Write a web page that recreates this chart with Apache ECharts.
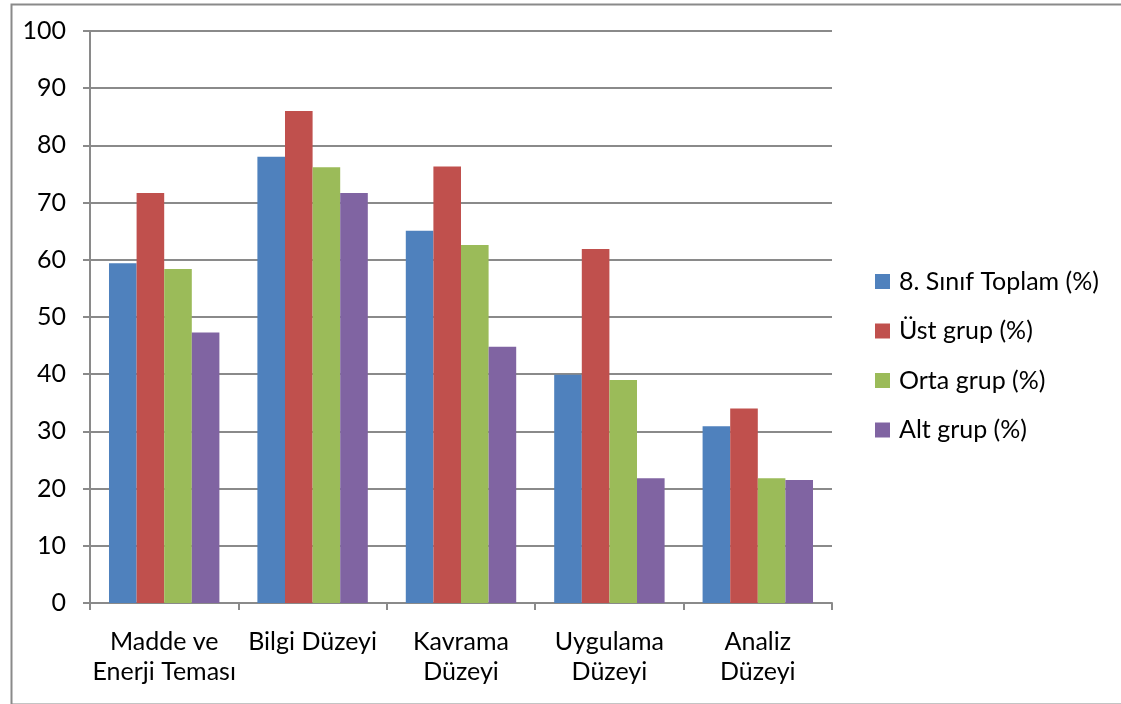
<!DOCTYPE html>
<html>
<head>
<meta charset="utf-8">
<script src="https://cdn.jsdelivr.net/npm/echarts@6/dist/echarts.min.js"></script>
<style>
html,body{margin:0;padding:0;background:#fff;}
#c{width:1121px;height:704px;}
</style>
</head>
<body>
<div id="c"></div>
<script>
const categories = ['Madde ve\nEnerji Teması', 'Bilgi Düzeyi', 'Kavrama\nDüzeyi', 'Uygulama\nDüzeyi', 'Analiz\nDüzeyi'];
const seriesNames = ['8. Sınıf Toplam (%)', 'Üst grup (%)', 'Orta grup (%)', 'Alt grup (%)'];
const toplam = [59.4, 78.0, 65.1, 39.9, 30.9];
const ust = [71.7, 86.0, 76.3, 61.9, 34.0];
const orta = [58.4, 76.2, 62.6, 39.0, 21.8];
const alt = [47.3, 71.7, 44.8, 21.8, 21.5];
const yTicks = {min: 0, max: 100, interval: 10};
const colors = ['#4F81BD', '#C0504D', '#9BBB59', '#8064A2'];

const FONT = 'Lato';
const chart = echarts.init(document.getElementById('c'), null, {renderer: 'canvas'});
const values = [toplam, ust, orta, alt];
chart.setOption({
  animation: false,
  backgroundColor: '#fff',
  textStyle: {fontFamily: FONT},
  graphic: [{
    type: 'rect', left: 9, top: 2, silent: true,
    shape: {x: 0, y: 0, width: 1125, height: 700},
    style: {fill: 'none', stroke: '#8a8a8a', lineWidth: 2}
  }],
  grid: {left: 90, top: 31, width: 742, height: 572, containLabel: false},
  legend: {
    orient: 'vertical', left: 870, top: 264, padding: 5,
    itemWidth: 15, itemHeight: 15, itemGap: 24.5,
    icon: 'rect',
    textStyle: {fontFamily: FONT, fontSize: 25, lineHeight: 24, color: '#000', padding: [0, 0, 0, 4]},
    data: seriesNames
  },
  xAxis: {
    type: 'category', data: categories,
    axisLine: {lineStyle: {color: '#8a8a8a', width: 2}},
    axisTick: {show: true, length: 7, lineStyle: {color: '#8a8a8a', width: 2}, alignWithLabel: false},
    axisLabel: {color: '#000', fontFamily: FONT, fontSize: 25, lineHeight: 30, margin: 24, interval: 0}
  },
  yAxis: {
    type: 'value', min: yTicks.min, max: yTicks.max, interval: yTicks.interval,
    axisLine: {show: true, lineStyle: {color: '#8a8a8a', width: 2}},
    axisTick: {show: true, length: 7, lineStyle: {color: '#8a8a8a', width: 2}},
    splitLine: {show: true, lineStyle: {color: '#8a8a8a', width: 2}},
    axisLabel: {color: '#000', fontFamily: FONT, fontSize: 25, margin: 24}
  },
  series: seriesNames.map((n, i) => ({
    name: n, type: 'bar', data: values[i],
    barGap: '0%', barCategoryGap: '25.6%',
    itemStyle: {color: colors[i]}
  }))
});
</script>
</body>
</html>
